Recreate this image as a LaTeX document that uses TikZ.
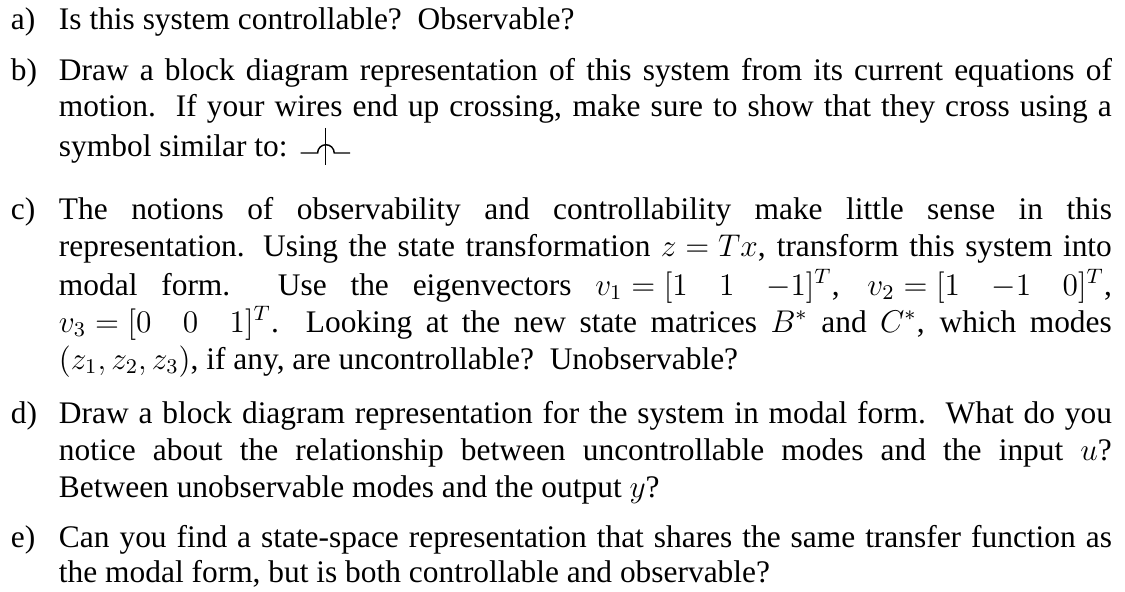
\documentclass[tikz,border=0pt]{standalone}
\usepackage{fontspec}
\setmainfont{Liberation Serif}
\usetikzlibrary{calc}
\newlength{\tw}\setlength{\tw}{402.2pt}
\newcommand{\jl}[1]{\makebox[\tw][s]{#1}}
\newcommand{\m}[1]{\mbox{$#1$}}
\begin{document}
\begin{tikzpicture}[x=0.382pt,y=-0.382pt,
  txt/.style={anchor=base west,inner sep=0pt,outer sep=0pt,font=\fontsize{12}{14}\selectfont},
  wire/.style={line width=0.55pt}]
\useasboundingbox (0,0) rectangle (1125,592);
% a
\node[txt] (la) at (11,30) {a)};
\node[txt] (a1) at (59,30) {Is this system controllable?\ \ Observable?};
% b
\node[txt] (lb) at (11,81) {b)};
\node[txt] (b1) at (59,81) {\jl{Draw a block diagram representation of this system from its current equations of}};
\node[txt] (b2) at (59,117) {\jl{motion.\ \ If your wires end up crossing, make sure to show that they cross using a}};
\node[txt] (b3) at (59,157) {symbol similar to:};
\coordinate (s0) at ($(b3.base east)+(13,-4)$);
\coordinate (s1) at ($(s0)+(25,-25)$);
\coordinate (s2) at ($(s0)+(25,12)$);
\draw[wire] (s0) -- ++(17,0) arc[start angle=180,end angle=0,radius=3.17pt] -- ++(16,0);
\draw[wire] (s1) -- (s2);
% c
\node[txt] (lc) at (11,220) {c)};
\node[txt] (c1) at (59,220) {\jl{The notions of observability and controllability make little sense in this}};
\node[txt] (c2) at (59,257) {\jl{representation. Using the state transformation \m{z=Tx}, transform this system into}};
\node[txt] (c3) at (59,295) {\jl{modal form.\ \ Use the eigenvectors \m{v_1=[1\quad 1\quad {-1}]^T}, \m{v_2=[1\quad {-1}\quad 0]^T},}};
\node[txt] (c4) at (59,332) {\jl{\m{v_3=[0\quad 0\quad 1]^T}.\ \ Looking at the new state matrices \m{B^*} and \m{C^*}, which modes}};
\node[txt] (c5) at (59,369) {$(z_1,z_2,z_3)$, if any, are uncontrollable?\ \ Unobservable?};
% d
\node[txt] (ld) at (11,423) {d)};
\node[txt] (d1) at (59,423) {\jl{Draw a block diagram representation for the system in modal form.\ \ What do you}};
\node[txt] (d2) at (59,460) {\jl{notice about the relationship between uncontrollable modes and the input \m{u}?}};
\node[txt] (d3) at (59,497) {Between unobservable modes and the output $y$?};
% e
\node[txt] (le) at (11,547) {e)};
\node[txt] (e1) at (59,547) {\jl{Can you find a state-space representation that shares the same transfer function as}};
\node[txt] (e2) at (59,582) {the modal form, but is both controllable and observable?};
\end{tikzpicture}
\end{document}
